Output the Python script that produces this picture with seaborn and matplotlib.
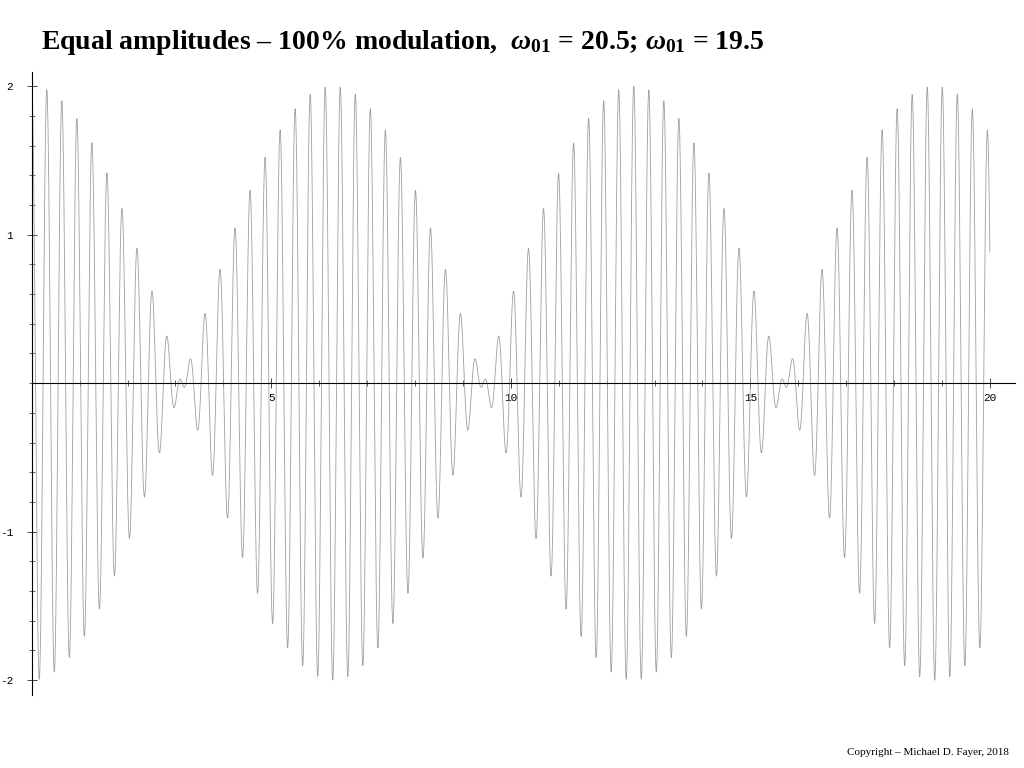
import numpy as np
import matplotlib
matplotlib.use("Agg")
import matplotlib.pyplot as plt
import seaborn as sns
from matplotlib.ticker import MultipleLocator

# Parameters stated in the chart title: two equal-amplitude cosines
omega_a = 20.5
omega_b = 19.5
amplitude = 1.0
t_start, t_end = 0.0, 20.0
x_ticks = [5, 10, 15, 20]
y_ticks = [-2, -1, 1, 2]

t = np.linspace(t_start, t_end, 6000)
y = amplitude * np.cos(omega_a * t) + amplitude * np.cos(omega_b * t)

sns.set_style("white")
plt.rcParams["mathtext.fontset"] = "custom"
plt.rcParams["mathtext.rm"] = "Liberation Serif:bold"
plt.rcParams["mathtext.it"] = "Liberation Serif:italic:bold"
plt.rcParams["mathtext.bf"] = "Liberation Serif:bold"
plt.rcParams["axes.unicode_minus"] = False

fig = plt.figure(figsize=(10.24, 7.68), dpi=100)
ax = fig.add_axes([0.031, 0.095, 0.96, 0.811])
sns.lineplot(x=t, y=y, ax=ax, color="#a0a0a0", linewidth=0.6, sort=False)

ax.set_xlim(0, 20.52)
ax.set_ylim(-2.10, 2.094)
for s in ["top", "right"]:
    ax.spines[s].set_visible(False)
ax.spines["bottom"].set_position(("data", 0))
ax.spines["left"].set_position(("data", 0))
for s in ["bottom", "left"]:
    ax.spines[s].set_linewidth(0.8)
    ax.spines[s].set_color("black")

ax.set_xticks(x_ticks)
ax.set_yticks(y_ticks)
ax.set_xticklabels([str(v) for v in x_ticks])
ax.set_yticklabels([str(v) for v in y_ticks])
ax.xaxis.set_minor_locator(MultipleLocator(1))
ax.yaxis.set_minor_locator(MultipleLocator(0.2))
ax.tick_params(axis="both", which="major", direction="inout", length=7, width=0.6,
               labelsize=8, bottom=True, left=True, labelcolor="black")
ax.tick_params(axis="both", which="minor", direction="inout", length=4, width=0.5,
               bottom=True, left=True)
for lab in ax.get_xticklabels() + ax.get_yticklabels():
    lab.set_family("Liberation Mono")
ax.tick_params(axis="y", pad=10)
ax.set_xlabel("")
ax.set_ylabel("")

fig.text(0.04, 0.945, r"Equal amplitudes – 100% modulation,  $\mathit{\omega}_{01}$ = 20.5; $\mathit{\omega}_{01}$ = 19.5",
         fontsize=20, fontweight="bold", family="Liberation Serif", color="black",
         ha="left", va="center")
fig.text(0.985, 0.02, "Copyright – Michael D. Fayer, 2018", fontsize=8,
         family="Liberation Serif", color="black", ha="right", va="center")

fig.savefig("out.png", dpi=100)
